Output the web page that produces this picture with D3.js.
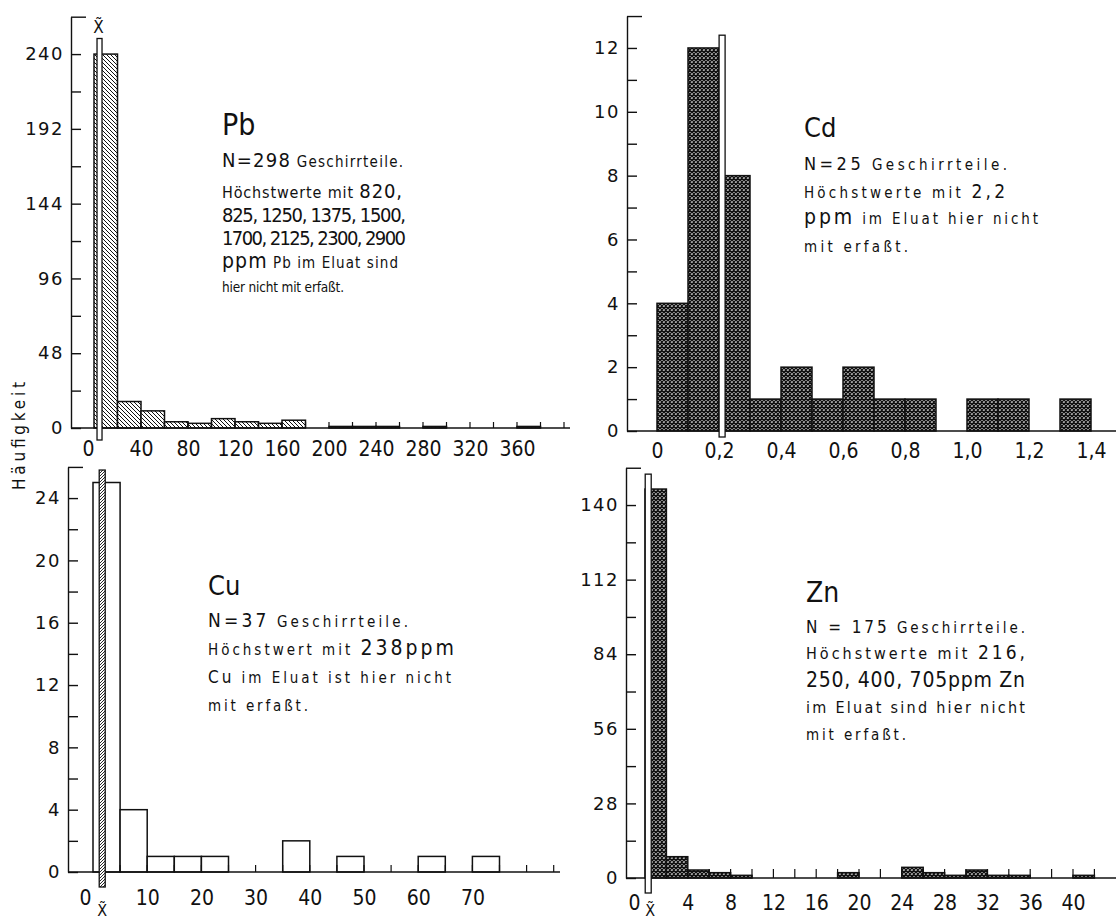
<!DOCTYPE html>
<html>
<head>
<meta charset="utf-8">
<script src="https://cdn.jsdelivr.net/npm/d3@7"></script>
<style>
  body { margin: 0; background: #fff; }
  svg { display: block; }
  text { font-family: "DejaVu Sans Condensed", "DejaVu Sans", sans-serif; fill: #111; }
  .ylab { font-family: "DejaVu Sans", sans-serif; font-size: 18px; letter-spacing: 1.5px; }
  .xlab { font-family: "Liberation Sans Narrow", "DejaVu Sans Condensed", sans-serif; font-size: 21px; }
</style>
</head>
<body>
<div id="chart"></div>
<script>
// Häufigkeit je Klasse
var pbCounts = [240, 17, 11, 4, 3, 6, 4, 3, 5, 0, 1, 1, 1, 0, 1, 0, 0, 0, 1];
var pbBinWidth = 20;
var pbMedian = 4.7;
var pbXTicks = [0, 40, 80, 120, 160, 200, 240, 280, 320, 360];
var pbXLabels = ["0", "40", "80", "120", "160", "200", "240", "280", "320", "360"];
var pbYLabels = [0, 48, 96, 144, 192, 240];

var cdCounts = [4, 12, 8, 1, 2, 1, 2, 1, 1, 0, 1, 1, 0, 1];
var cdBinWidth = 0.1;
var cdMedian = 0.21;
var cdXTicks = [0, 0.2, 0.4, 0.6, 0.8, 1.0, 1.2, 1.4];
var cdXLabels = ["0", "0,2", "0,4", "0,6", "0,8", "1,0", "1,2", "1,4"];
var cdYLabels = [0, 2, 4, 6, 8, 10, 12];

var cuCounts = [25, 4, 1, 1, 1, 0, 0, 2, 0, 1, 0, 0, 1, 0, 1];
var cuBinWidth = 5;
var cuMedian = 1.7;
var cuXTicks = [0, 10, 20, 30, 40, 50, 60, 70];
var cuXLabels = ["0", "10", "20", "30", "40", "50", "60", "70"];
var cuYLabels = [0, 4, 8, 12, 16, 20, 24];

var znCounts = [146, 8, 3, 2, 1, 0, 0, 0, 0, 2, 0, 0, 4, 2, 1, 3, 1, 1, 0, 0, 1];
var znBinWidth = 2;
var znMedian = 0.3;
var znXTicks = [0, 4, 8, 12, 16, 20, 24, 28, 32, 36, 40];
var znXLabels = ["0", "4", "8", "12", "16", "20", "24", "28", "32", "36", "40"];
var znYLabels = [0, 28, 56, 84, 112, 140];

var svg = d3.select("#chart").append("svg")
    .attr("width", 1116)
    .attr("height", 922);

var defs = svg.append("defs");

// schraffur fuer Pb
var hatch = defs.append("pattern").attr("id", "hatch")
    .attr("patternUnits", "userSpaceOnUse").attr("width", 4).attr("height", 4);
hatch.append("rect").attr("width", 4).attr("height", 4).attr("fill", "#fff");
hatch.append("path").attr("d", "M-1,-1L5,5M-1,3L1,5M3,-1L5,1")
    .attr("stroke", "#111").attr("stroke-width", 1);

// kreuzschraffur fuer Cd und Zn
var cross = defs.append("pattern").attr("id", "cross")
    .attr("patternUnits", "userSpaceOnUse").attr("width", 4).attr("height", 4);
cross.append("rect").attr("width", 4).attr("height", 4).attr("fill", "#fff");
cross.append("path").attr("d", "M-1,-1L5,5M-1,3L1,5M3,-1L5,1M-1,5L5,-1M-1,1L1,-1M3,5L5,3")
    .attr("stroke", "#111").attr("stroke-width", 1.45);

// feine schraffur fuer den Cu-Median
var chain = defs.append("pattern").attr("id", "chain")
    .attr("patternUnits", "userSpaceOnUse").attr("width", 3).attr("height", 3);
chain.append("rect").attr("width", 3).attr("height", 3).attr("fill", "#fff");
chain.append("path").attr("d", "M-1,4L4,-1M-1,1L1,-1M2,4L4,2")
    .attr("stroke", "#111").attr("stroke-width", 0.9);

var panels = [
    { counts: pbCounts, binWidth: pbBinWidth, median: pbMedian, xTicks: pbXTicks, xLabels: pbXLabels, yLabels: pbYLabels,
      fill: "url(#hatch)", axisX: 71, x0: 94, kx: 1.175, xMax: 405, xEnd: 570, minorX: 20, minorLen: 6,
      base: 428, ky: 1.558, yTop: 264, yMinor: 24, labelDy: 28, zeroShift: -6,
      mark: { fill: "#fff", w: 5, top: 250, below: 12 } },
    { counts: cdCounts, binWidth: cdBinWidth, median: cdMedian, xTicks: cdXTicks, xLabels: cdXLabels, yLabels: cdYLabels,
      fill: "url(#cross)", axisX: 627, x0: 657, kx: 310, xMax: 1.5, xEnd: 1116, minorX: 0, minorLen: 0,
      base: 431, ky: 31.92, yTop: 13, yMinor: 1, labelDy: 27, zeroShift: 0,
      mark: { fill: "#fff", w: 6, top: 12.4, below: 6 } },
    { counts: cuCounts, binWidth: cuBinWidth, median: cuMedian, xTicks: cuXTicks, xLabels: cuXLabels, yLabels: cuYLabels,
      fill: "#fff", axisX: 68, x0: 93, kx: 5.42, xMax: 86, xEnd: 560, minorX: 5, minorLen: 7,
      base: 872, ky: 15.58, yTop: 26, yMinor: 2, labelDy: 33, zeroShift: -8,
      mark: { fill: "url(#chain)", w: 6, top: 25.8, below: 15 } },
    { counts: znCounts, binWidth: znBinWidth, median: znMedian, xTicks: znXTicks, xLabels: znXLabels, yLabels: znYLabels,
      fill: "url(#cross)", axisX: 626, x0: 645, kx: 10.7, xMax: 43, xEnd: 1116, minorX: 2, minorLen: 9,
      base: 878, ky: 2.664, yTop: 154, yMinor: 14, labelDy: 32, zeroShift: -11,
      mark: { fill: "#fff", w: 6, top: 151.6, below: 15 } }
];

panels.forEach(drawPanel);

function drawPanel(p) {
    var x = d3.scaleLinear().domain([0, p.xMax]).range([p.x0, p.x0 + p.xMax * p.kx]);
    var y = d3.scaleLinear().domain([0, p.yTop]).range([p.base, p.base - p.yTop * p.ky]);
    var g = svg.append("g");

    var bins = p.counts.map(function(c, i) {
        return { lo: i * p.binWidth, hi: (i + 1) * p.binWidth, n: c };
    }).filter(function(d) { return d.n > 0; });

    g.selectAll("rect.bar")
        .data(bins)
        .enter()
        .append("rect")
        .attr("class", "bar")
        .attr("x", function(d) { return x(d.lo); })
        .attr("width", function(d) { return x(d.hi) - x(d.lo); })
        .attr("y", function(d) { return y(d.n); })
        .attr("height", function(d) { return y(0) - y(d.n); })
        .attr("fill", p.fill)
        .attr("stroke", "#111")
        .attr("stroke-width", 1.5);

    // y-Achse, Striche nach innen
    var yVals = d3.range(0, p.yTop + p.yMinor / 2, p.yMinor);
    var yAxis = d3.axisLeft(y)
        .tickValues(yVals)
        .tickSize(-10)
        .tickSizeOuter(0)
        .tickPadding(7)
        .tickFormat(function(d) { return p.yLabels.indexOf(d) >= 0 ? d : ""; });
    var ya = g.append("g")
        .attr("transform", "translate(" + p.axisX + ",0)")
        .call(yAxis);
    ya.selectAll("path, line").attr("stroke", "#111").attr("stroke-width", 1.4);
    ya.selectAll("text").attr("class", "ylab").attr("fill", "#111");
    ya.selectAll(".tick line").filter(function(d) { return d === p.yTop; }).attr("x2", 15);

    // x-Achse
    g.append("line")
        .attr("x1", p.axisX).attr("x2", p.xEnd)
        .attr("y1", p.base).attr("y2", p.base)
        .attr("stroke", "#111").attr("stroke-width", 1.4);

    if (p.minorX) {
        var minor = d3.range(p.minorX, p.xMax, p.minorX);
        g.selectAll("line.minor")
            .data(minor)
            .enter()
            .append("line")
            .attr("class", "minor")
            .attr("x1", function(d) { return x(d); })
            .attr("x2", function(d) { return x(d); })
            .attr("y1", p.base)
            .attr("y2", p.base - p.minorLen)
            .attr("stroke", "#111")
            .attr("stroke-width", 1.2);
    }

    var xAxis = d3.axisBottom(x)
        .tickValues(p.xTicks)
        .tickSize(0)
        .tickFormat(function(d, i) { return p.xLabels[i]; });
    var xa = g.append("g")
        .attr("transform", "translate(0," + p.base + ")")
        .call(xAxis);
    xa.select(".domain").remove();
    xa.selectAll("text")
        .attr("class", "xlab")
        .attr("fill", "#111")
        .attr("y", p.labelDy)
        .attr("dy", 0)
        .attr("dx", function(d) { return d === 0 ? p.zeroShift : 0; });

    // Median-Markierung
    var mx = x(p.median);
    g.append("rect")
        .attr("x", mx - p.mark.w / 2)
        .attr("width", p.mark.w)
        .attr("y", y(p.mark.top))
        .attr("height", y(0) - y(p.mark.top) + p.mark.below)
        .attr("fill", p.mark.fill)
        .attr("stroke", "#111")
        .attr("stroke-width", 1.3);

    p.medianX = mx;
}

// x-tilde Beschriftungen (X mit kombinierender Tilde)
function medianLabel(cx, baseY, size) {
    svg.append("text")
        .attr("x", cx).attr("y", baseY)
        .attr("text-anchor", "middle")
        .attr("font-family", "DejaVu Sans, sans-serif")
        .attr("font-size", size)
        .text("X\u0303");
}
medianLabel(panels[0].medianX - 1, 33, 17);
medianLabel(panels[2].medianX, 916, 16);
medianLabel(panels[3].medianX + 2, 916, 16);

// Achsentitel
svg.append("text")
    .attr("transform", "translate(25,436) rotate(-90)")
    .attr("text-anchor", "middle")
    .attr("font-family", "DejaVu Sans, sans-serif")
    .attr("font-size", 17)
    .attr("textLength", 108)
    .attr("lengthAdjust", "spacing")
    .text("Häufigkeit");

// Erläuterungen
function note(x, y, parts, width) {
    var t = svg.append("text").attr("x", x).attr("y", y).style("white-space", "pre");
    parts.forEach(function(s) {
        t.append("tspan").attr("font-size", s[1]).text(s[0]);
    });
    if (width) t.attr("textLength", width).attr("lengthAdjust", "spacing");
}

note(222, 135, [["Pb", 30]]);
note(222, 167, [["N=298", 20], [" Geschirrteile.", 15]], 181);
note(222, 198, [["Höchstwerte mit ", 16], ["820,", 20]], 180);
note(222, 222, [["825, 1250, 1375, 1500,", 20]], 184);
note(222, 245, [["1700, 2125, 2300, 2900", 20]], 184);
note(222, 268, [["ppm", 21], [" Pb im Eluat sind", 15]], 176);
note(222, 292, [["hier nicht mit erfaßt.", 13.5]], 122);

note(804, 137, [["Cd", 27]]);
note(804, 170, [["N=25", 18], [" Geschirrteile.", 15]], 203);
note(804, 198, [["Höchstwerte mit ", 15], ["2,2", 19]], 201);
note(804, 224, [["ppm", 21], [" im Eluat hier nicht", 15]], 234);
note(804, 252, [["mit erfaßt.", 15]], 104);

note(208, 595, [["Cu", 27]]);
note(208, 627, [["N=37", 19], [" Geschirrteile.", 15]], 200);
note(208, 655, [["Höchstwert mit ", 15], ["238ppm", 21]], 246);
note(208, 683, [["Cu", 17], [" im Eluat ist hier nicht", 15]], 243);
note(208, 711, [["mit erfaßt.", 15]], 100);

note(806, 602, [["Zn", 28]]);
note(806, 633, [["N = 175", 17], [" Geschirrteile.", 15]], 219);
note(806, 659, [["Höchstwerte mit ", 16], ["216,", 19]], 219);
note(806, 687, [["250, 400, 705ppm Zn", 21]], 219);
note(806, 713, [["im Eluat sind hier nicht", 16]], 219);
note(806, 740, [["mit erfaßt.", 15]], 100);
</script>
</body>
</html>
